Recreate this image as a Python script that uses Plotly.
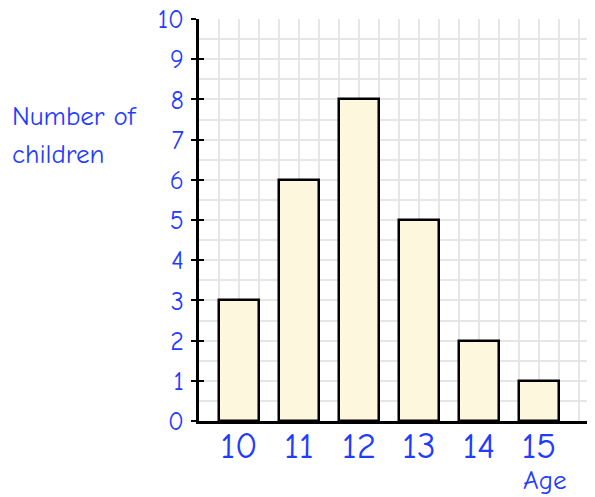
import plotly.graph_objects as go

ages = [10, 11, 12, 13, 14, 15]
children = [3, 6, 8, 5, 2, 1]
tick_labels = ["10", "11", "12", "13", "14", "15"]
y_label_lines = ["Number of", "children"]
x_label = "Age"

BLUE = "#1f3cff"
GRID = "#e6e6e6"
FONT = "Comic Sans MS, Comic Neue, Lato, sans-serif"

# page body has an 8px margin; size the figure so the plot lands where the reference has it
W, H = 587, 489
L, T, B = 191, 11, 76
PW, PH = W - L, H - T - B

def fx(px):  # page x pixel -> plot-area fraction
    return (px - 8 - L) / PW

def fy(py):  # page y pixel -> plot-area fraction
    return 1 - (py - 8 - T) / PH

fig = go.Figure()
fig.add_trace(go.Bar(
    x=ages, y=children, width=2/3,
    marker=dict(color="#fdf7dd", line=dict(color="black", width=2.5)),
    hoverinfo="skip",
))
# invisible helper trace so the crossing-tick overlay axis is drawn
fig.add_trace(go.Scatter(x=[ages[0]], y=[0], yaxis="y2", mode="markers",
                         marker=dict(opacity=0), showlegend=False, hoverinfo="skip"))

x0 = 28/3
fig.update_layout(
    width=W, height=H,
    margin=dict(l=L, r=0, t=T, b=B, autoexpand=False),
    plot_bgcolor="white", paper_bgcolor="white",
    showlegend=False, bargap=0,
    xaxis=dict(
        range=[x0, x0 + 19.8/3],
        tickmode="array", tickvals=ages, ticktext=tick_labels,
        ticks="", showgrid=True, gridcolor=GRID, gridwidth=2,
        minor=dict(tickmode="linear", tick0=x0, dtick=1/3, showgrid=True,
                   gridcolor=GRID, gridwidth=2, ticks=""),
        showline=True, linecolor="black", linewidth=3,
        tickfont=dict(family=FONT, size=37, color=BLUE),
        ticklabelstandoff=-10, ticklabeloverflow="allow",
        zeroline=False, fixedrange=True,
    ),
    yaxis=dict(
        range=[0, 10], tickmode="linear", tick0=0, dtick=1,
        ticks="outside", ticklen=5, tickwidth=2, tickcolor="black",
        showgrid=True, gridcolor=GRID, gridwidth=2,
        minor=dict(tickmode="linear", tick0=0, dtick=0.5, showgrid=True,
                   gridcolor=GRID, gridwidth=2, ticks=""),
        showline=True, linecolor="black", linewidth=3,
        tickfont=dict(family=FONT, size=26, color=BLUE),
        ticklabelstandoff=2, ticklabeloverflow="allow",
        zeroline=False, fixedrange=True,
    ),
    yaxis2=dict(
        range=[0, 10], overlaying="y", side="left", anchor="x",
        tickmode="linear", tick0=0, dtick=1,
        ticks="inside", ticklen=5, tickwidth=2, tickcolor="black",
        showticklabels=False, showgrid=False, zeroline=False, showline=False,
        fixedrange=True,
    ),
    annotations=[
        dict(text=y_label_lines[0], xref="paper", yref="paper",
             x=fx(10), y=fy(116), xanchor="left", yanchor="middle",
             showarrow=False, font=dict(family=FONT, size=27, color=BLUE)),
        dict(text=y_label_lines[1], xref="paper", yref="paper",
             x=fx(10), y=fy(154), xanchor="left", yanchor="middle",
             showarrow=False, font=dict(family=FONT, size=27, color=BLUE)),
        dict(text=x_label, xref="paper", yref="paper",
             x=fx(545), y=fy(480), xanchor="center", yanchor="middle",
             showarrow=False, font=dict(family=FONT, size=27, color=BLUE)),
    ],
)
fig.write_html("out.html")
